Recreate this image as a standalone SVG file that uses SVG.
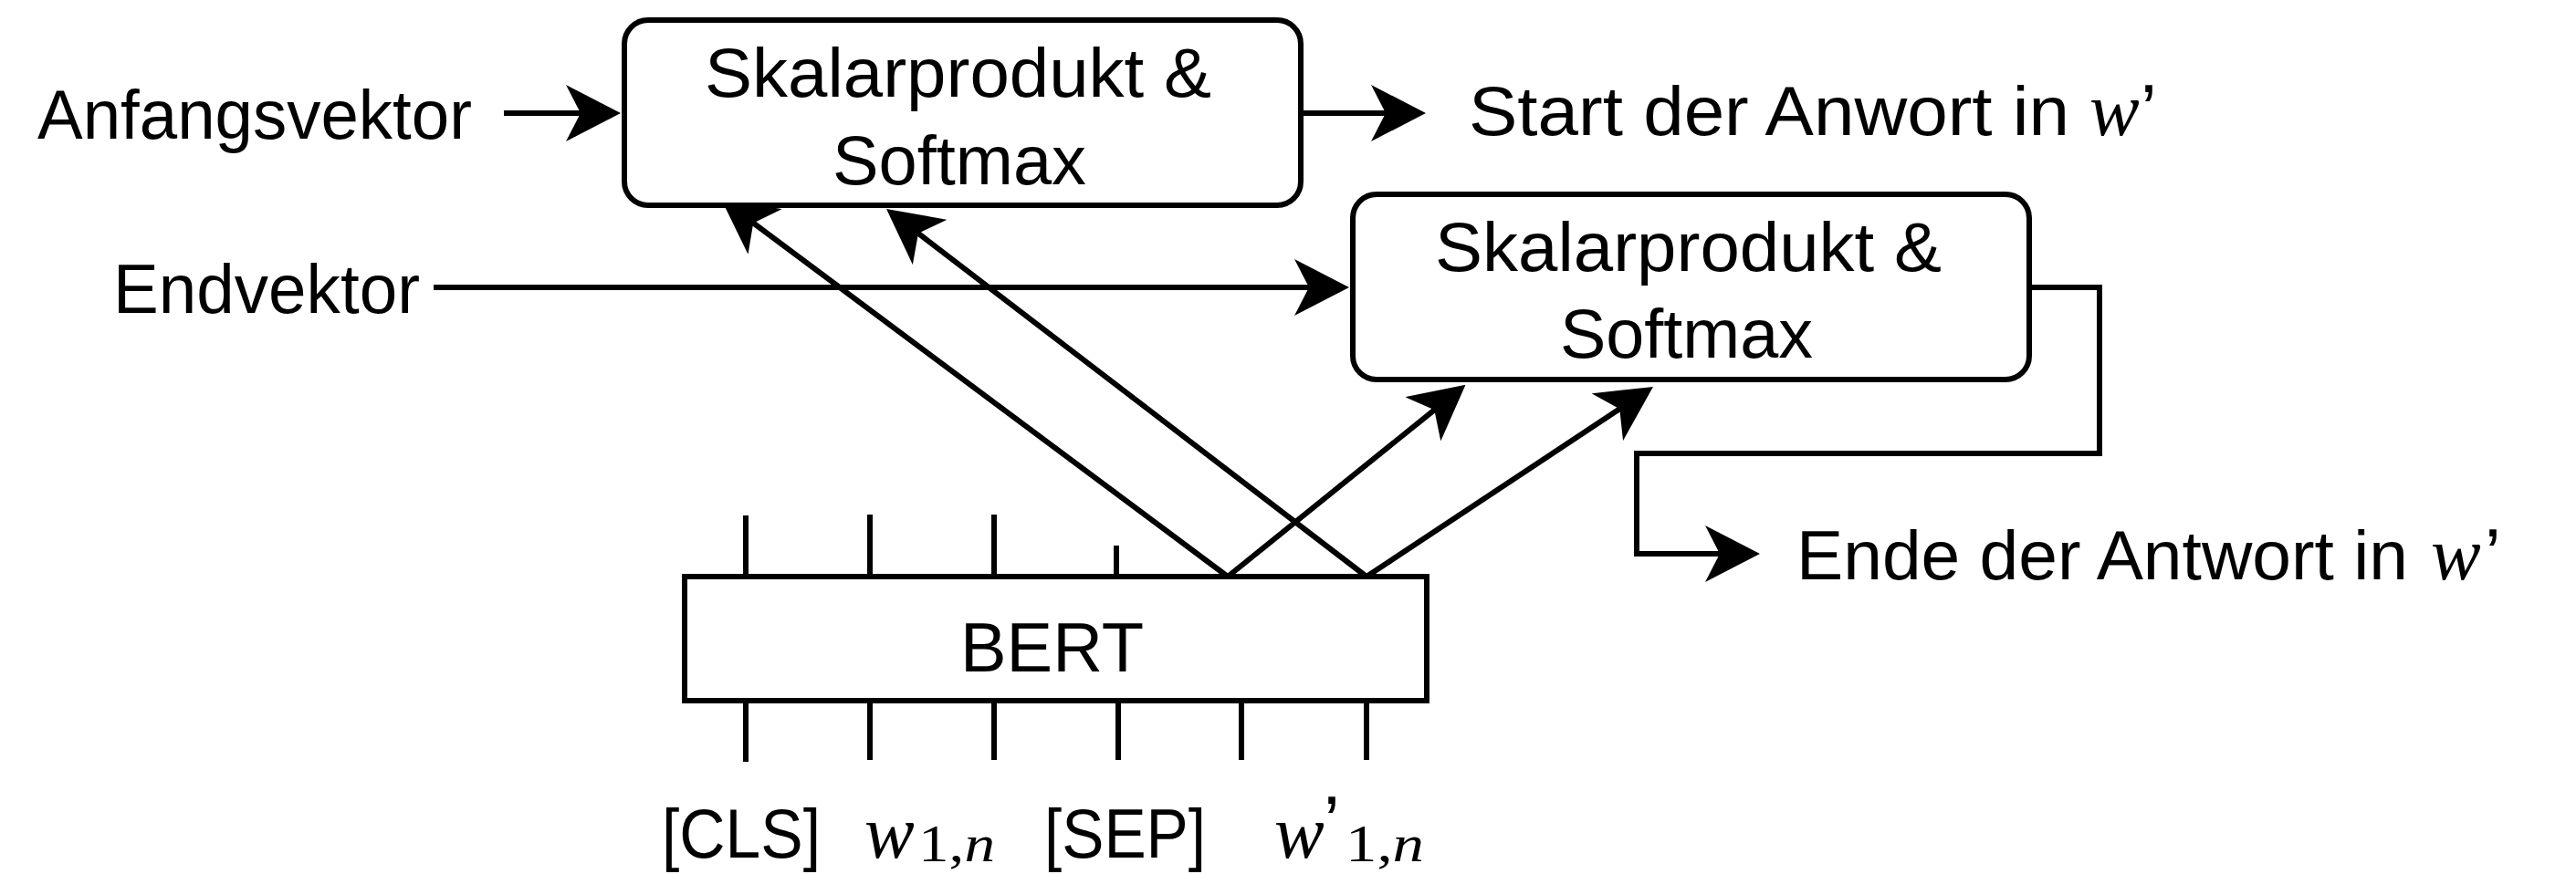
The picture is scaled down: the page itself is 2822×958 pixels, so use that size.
<svg xmlns="http://www.w3.org/2000/svg" width="2822" height="958" viewBox="0 0 2822 958">
<style>
  .bg { fill: #ffffff; }
  .box { fill: #ffffff; stroke: #000000; stroke-width: 6; }
  .line { fill: none; stroke: #000000; stroke-width: 6; stroke-linecap: butt; stroke-linejoin: miter; }
  .tick { fill: none; stroke: #000000; stroke-width: 6; }
  .t { font-family: "Liberation Sans", Arial, sans-serif; font-size: 76px; fill: #000000; }
  .m { font-family: "Liberation Serif", "Times New Roman", serif; font-style: italic; font-size: 82px; fill: #000000; }
  .sub { font-family: "Liberation Serif", "Times New Roman", serif; font-size: 58px; fill: #000000; }
  .subi { font-style: italic; }
  .pr { font-family: "Liberation Sans", Arial, sans-serif; font-size: 80px; fill: #000000; }
</style>
<defs>
  <marker id="stealth" viewBox="0 0 60 62" refX="20" refY="31" markerWidth="60" markerHeight="62" markerUnits="userSpaceOnUse" orient="auto">
    <path d="M0,0 L60,31 L0,62 L16,31 Z" fill="#000000"/>
  </marker>
</defs>
<rect class="bg" x="0" y="0" width="2822" height="958"/>

<g id="connectors">
  <path class="line" d="M552,124 L640,124" marker-end="url(#stealth)"/>
  <path class="line" d="M1424,124 L1522,124" marker-end="url(#stealth)"/>
  <path class="line" d="M475,315 L1438,315" marker-end="url(#stealth)"/>
  <path class="line" d="M1345,632 L822,242" marker-end="url(#stealth)"/>
  <path class="line" d="M1497,632 L1002.8,253.3" marker-end="url(#stealth)"/>
  <path class="line" d="M1345,632 L1574.4,446.8" marker-end="url(#stealth)"/>
  <path class="line" d="M1497,632 L1777.6,446.1" marker-end="url(#stealth)"/>
  <path class="line" d="M2223,315 L2300,315 L2300,497 L1793,497 L1793,607 L1888,607" marker-end="url(#stealth)"/>
</g>

<g id="anfangsvektor">
  <text class="t" x="41" y="152" textLength="476" lengthAdjust="spacingAndGlyphs">Anfangsvektor</text>
</g>

<g id="endvektor">
  <text class="t" x="124" y="343" textLength="336" lengthAdjust="spacingAndGlyphs">Endvektor</text>
</g>

<g id="skalar-start">
  <rect class="box" x="684" y="22" width="741" height="203" rx="26" ry="26"/>
  <text class="t" x="772" y="106" textLength="555" lengthAdjust="spacingAndGlyphs">Skalarprodukt &amp;</text>
  <text class="t" x="912" y="202" textLength="278" lengthAdjust="spacingAndGlyphs">Softmax</text>
</g>

<g id="skalar-ende">
  <rect class="box" x="1482" y="213" width="741" height="203" rx="26" ry="26"/>
  <text class="t" x="1572" y="297" textLength="555" lengthAdjust="spacingAndGlyphs">Skalarprodukt &amp;</text>
  <text class="t" x="1709" y="392" textLength="277" lengthAdjust="spacingAndGlyphs">Softmax</text>
</g>

<g id="start-label">
  <text class="t" x="1609" y="148" textLength="658" lengthAdjust="spacingAndGlyphs">Start der Anwort in</text>
  <text class="m" x="2289" y="148">w</text>
  <text class="pr" x="2345" y="148">’</text>
</g>

<g id="ende-label">
  <text class="t" x="1968" y="635" textLength="670" lengthAdjust="spacingAndGlyphs">Ende der Antwort in</text>
  <text class="m" x="2663" y="635">w</text>
  <text class="pr" x="2722" y="635">’</text>
</g>

<g id="bert">
  <line class="tick" x1="817" y1="565" x2="817" y2="632"/>
  <line class="tick" x1="953" y1="564" x2="953" y2="632"/>
  <line class="tick" x1="1089" y1="564" x2="1089" y2="632"/>
  <line class="tick" x1="1223" y1="598" x2="1223" y2="632"/>
  <line class="tick" x1="817" y1="768" x2="817" y2="835"/>
  <line class="tick" x1="953" y1="768" x2="953" y2="833"/>
  <line class="tick" x1="1089" y1="768" x2="1089" y2="833"/>
  <line class="tick" x1="1225" y1="768" x2="1225" y2="833"/>
  <line class="tick" x1="1360" y1="768" x2="1360" y2="833"/>
  <line class="tick" x1="1497" y1="768" x2="1497" y2="833"/>
  <rect class="box" x="750" y="632" width="813" height="136"/>
  <text class="t" x="1052" y="736" textLength="201" lengthAdjust="spacingAndGlyphs">BERT</text>
</g>

<g id="tokens">
  <text class="t" x="725" y="940" textLength="174" lengthAdjust="spacingAndGlyphs">[CLS]</text>
  <text class="m" x="947" y="940">w</text>
  <text class="sub" x="1006" y="944" textLength="84" lengthAdjust="spacingAndGlyphs">1,<tspan class="subi">n</tspan></text>
  <text class="t" x="1144" y="940" textLength="177" lengthAdjust="spacingAndGlyphs">[SEP]</text>
  <text class="m" x="1396" y="940">w</text>
  <text class="pr" x="1450" y="928">’</text>
  <text class="sub" x="1474" y="944" textLength="86" lengthAdjust="spacingAndGlyphs">1,<tspan class="subi">n</tspan></text>
</g>
</svg>
